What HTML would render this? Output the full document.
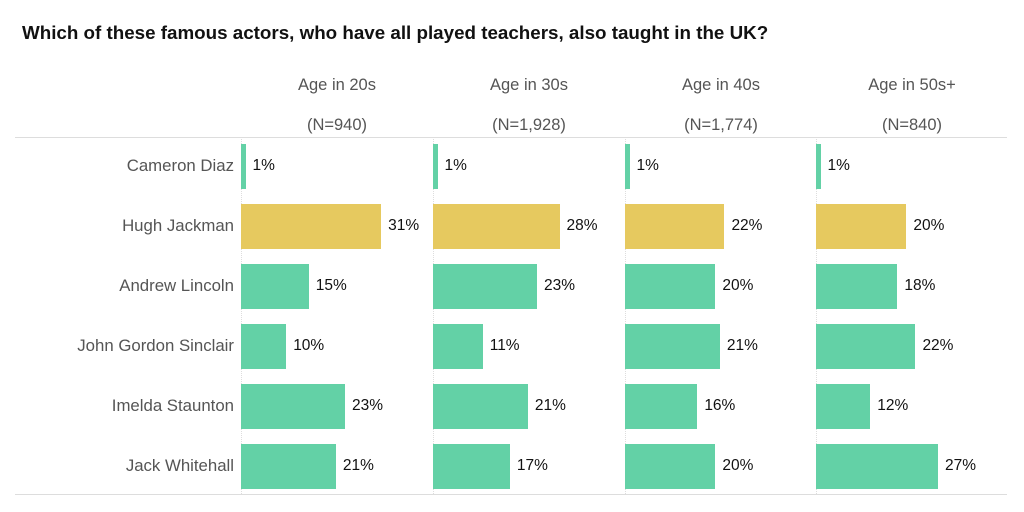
<!DOCTYPE html>
<html><head><style>
body{margin:0;width:1024px;height:512px;background:#fff;font-family:"Liberation Sans",sans-serif;position:relative;overflow:hidden}
.t{position:absolute;left:22px;top:22px;font-size:18.8px;font-weight:bold;color:#111}
.h{position:absolute;font-size:16.5px;color:#555;text-align:center;width:192px}
.l{position:absolute;right:790px;font-size:16.8px;color:#555;text-align:right;white-space:nowrap}
.b{position:absolute;height:45px}
.v{position:absolute;font-size:15.5px;color:#111}
.d{position:absolute;top:137px;height:357px;border-left:1px dotted #ddd}
.hl{position:absolute;left:15px;width:992px;height:1px;background:#ddd}
</style></head><body>
<div class="t">Which of these famous actors, who have all played teachers, also taught in the UK?</div>
<div class="hl" style="top:137px"></div>
<div class="hl" style="top:494px"></div>
<div id="c"></div>
<script>
var names=["Cameron Diaz","Hugh Jackman","Andrew Lincoln","John Gordon Sinclair","Imelda Staunton","Jack Whitehall"];
var heads=[["Age in 20s","(N=940)"],["Age in 30s","(N=1,928)"],["Age in 40s","(N=1,774)"],["Age in 50s+","(N=840)"]];
var xs=[241,433,625,816];
var data=[[1,31,15,10,23,21],[1,28,23,11,21,17],[1,22,20,21,16,20],[1,20,18,22,12,27]];
var h="";
names.forEach(function(n,i){h+='<div class="l" style="top:'+(156+60*i)+'px">'+n+'</div>';});
xs.forEach(function(x,p){
h+='<div class="d" style="left:'+x+'px"></div>';
h+='<div class="h" style="left:'+x+'px;top:76px">'+heads[p][0]+'</div>';
h+='<div class="h" style="left:'+x+'px;top:116px">'+heads[p][1]+'</div>';
data[p].forEach(function(v,i){var w=Math.max(3,v*4.52);
h+='<div class="b" style="left:'+x+'px;top:'+(144+60*i)+'px;width:'+w+'px;background:'+(i==1?'#e6c95f':'#63d1a6')+'"></div>';
h+='<div class="v" style="left:'+(x+w+7)+'px;top:'+(157+60*i)+'px">'+v+'%</div>';});
});
document.getElementById("c").innerHTML=h;
</script>
</body></html>
